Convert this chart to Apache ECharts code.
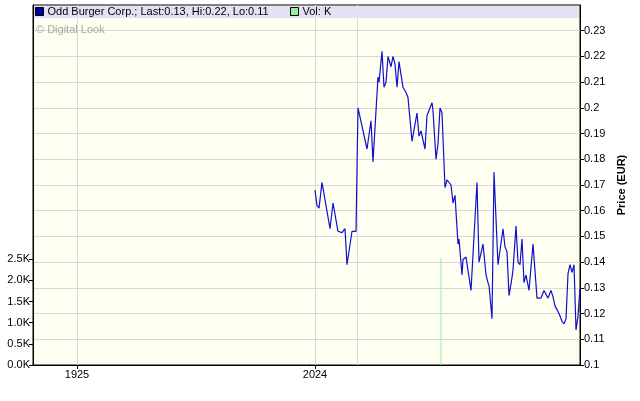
<!DOCTYPE html>
<html><head><meta charset="utf-8">
<script src="https://cdn.jsdelivr.net/npm/echarts@6/dist/echarts.min.js"></script>
<style>html,body{margin:0;padding:0;background:#fff}#c{width:640px;height:401px}</style>
</head><body><div id="c"></div>
<script>
const seriesName = 'Odd Burger Corp.; Last:0.13, Hi:0.22, Lo:0.11';
const volName = 'Vol: K';
const watermark = '\u00A9 Digital Look';
const xTickValues = [-238, 0];
const xTickLabels = ['1925', '2024'];
const xGridValues = [-238, 0, 42];
const priceDays = [0,2,4,7,8,15,18,23,27,28,30,32,34,37,41,43,52,56,58,63,64,67,69,71,73,76,78,80,82,84,86,88,91,93,95,97,102,104,106,110,112,114,117,118,121,123,125,127,130,132,134,136,138,140,143,144,147,148,151,153,156,162,164,166,168,171,173,174,177,179,183,188,190,192,194,197,198,201,203,205,207,209,211,214,218,222,226,227,229,231,233,236,238,240,242,244,247,249,251,253,255,257,259,261,263,265];
const prices = [0.168,0.162,0.161,0.171,0.1705,0.153,0.163,0.152,0.1515,0.151,0.153,0.139,0.139,0.152,0.152,0.200,0.184,0.195,0.179,0.212,0.210,0.222,0.208,0.210,0.220,0.216,0.220,0.217,0.208,0.218,0.218,0.208,0.206,0.204,0.204,0.187,0.198,0.189,0.191,0.184,0.197,0.197,0.202,0.199,0.180,0.186,0.200,0.198,0.169,0.172,0.172,0.170,0.163,0.166,0.147,0.149,0.135,0.141,0.142,0.142,0.129,0.171,0.140,0.140,0.147,0.135,0.132,0.131,0.118,0.175,0.139,0.153,0.146,0.144,0.127,0.134,0.137,0.154,0.140,0.139,0.149,0.132,0.135,0.129,0.147,0.126,0.126,0.127,0.129,0.129,0.126,0.129,0.1265,0.123,0.1227,0.120,0.117,0.116,0.118,0.1355,0.139,0.136,0.139,0.1136,0.119,0.130];
const volDays = [126];
const volumes = [2530];
const priceTicks = [0.10,0.11,0.12,0.13,0.14,0.15,0.16,0.17,0.18,0.19,0.20,0.21,0.22,0.23];
const volTicks = [0,500,1000,1500,2000,2500];

const FONT = 'Liberation Sans, Arial, sans-serif';
const chart = echarts.init(document.getElementById('c'), null, {renderer: 'canvas'});
chart.setOption({
  animation: false,
  textStyle: {fontFamily: FONT},
  grid: {left: 33, right: 60, top: 5, bottom: 36, show: true, backgroundColor: '#fefff0', borderColor: '#000', borderWidth: 1},
  graphic: [
    {type: 'rect', left: 34, top: 6, shape: {width: 545, height: 12}, style: {fill: '#e2e2f4'}, z: 5},
    {type: 'text', left: 36, top: 24, style: {text: watermark, fill: '#a8a8a8', font: '11px ' + FONT}, z: 5}
  ],
  legend: [
    {data: [seriesName], left: 35, top: 6, padding: 0, itemWidth: 8, itemHeight: 8, itemGap: 0, selectedMode: false, icon: 'rect',
     itemStyle: {borderColor: '#000', borderWidth: 1},
     textStyle: {fontSize: 11, color: '#000', fontFamily: FONT, padding: [0,0,0,-1]}, z: 10},
    {data: [volName], left: 290, top: 6, padding: 0, itemWidth: 8, itemHeight: 8, selectedMode: false, icon: 'rect',
     itemStyle: {borderColor: '#000', borderWidth: 1},
     textStyle: {fontSize: 11, color: '#000', fontFamily: FONT, padding: [0,0,0,-1]}, z: 10}
  ],
  xAxis: [
    {type: 'value', min: -282, max: 265, position: 'bottom',
     axisLine: {show: true, onZero: false, lineStyle: {color: '#000', width: 1}},
     axisTick: {show: true, length: 4, customValues: xTickValues, lineStyle: {color: '#000'}},
     axisLabel: {customValues: xTickValues, color: '#000', fontSize: 11, margin: 4,
       formatter: v => xTickLabels[xTickValues.indexOf(v)] || ''},
     splitLine: {show: false}},
    {type: 'value', min: -282, max: 265, position: 'bottom',
     axisLine: {show: false, onZero: false}, axisLabel: {show: false},
     axisTick: {show: false, customValues: xGridValues},
     splitLine: {show: true, lineStyle: {color: '#d8d8d8', width: 1}}}
  ],
  yAxis: [
    {type: 'value', position: 'left', min: 0, max: 8500,
     axisLine: {show: true, onZero: false, lineStyle: {color: '#000'}},
     axisTick: {show: true, length: 4, customValues: volTicks, lineStyle: {color: '#000'}},
     axisLabel: {customValues: volTicks, color: '#000', fontSize: 11, margin: 3,
       formatter: v => (v / 1000).toFixed(1) + 'K'},
     splitLine: {show: false}},
    {type: 'value', position: 'right', min: 0.1, max: 0.24,
     name: 'Price (EUR)', nameLocation: 'middle', nameRotate: 90, nameGap: 36,
     nameTextStyle: {fontWeight: 'bold', fontSize: 11, color: '#000', fontFamily: FONT},
     axisLine: {show: true, onZero: false, lineStyle: {color: '#000'}},
     axisTick: {show: true, length: 4, customValues: priceTicks, lineStyle: {color: '#000'}},
     axisLabel: {customValues: priceTicks, color: '#000', fontSize: 11, margin: 4,
       formatter: v => String(parseFloat(v.toFixed(2)))},
     splitLine: {show: true, lineStyle: {color: '#d8d8d8', width: 1}}}
  ],
  series: [
    {name: seriesName, type: 'line', xAxisIndex: 0, yAxisIndex: 1,
     data: priceDays.map((d, i) => [d, prices[i]]),
     showSymbol: false, symbol: 'none', lineStyle: {color: '#1010cc', width: 1.2},
     itemStyle: {color: '#0000a0', borderColor: '#000', borderWidth: 1}, z: 3},
    {name: volName, type: 'bar', xAxisIndex: 0, yAxisIndex: 0,
     data: volDays.map((d, i) => [d, volumes[i]]),
     barWidth: 1, itemStyle: {color: '#99ee99', borderColor: '#000', borderWidth: 0}, z: 2}
  ]
});
</script></body></html>
